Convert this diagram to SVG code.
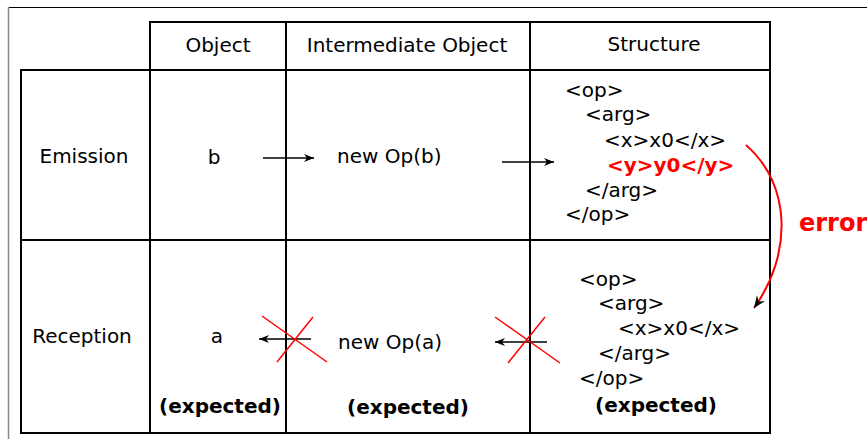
<svg xmlns="http://www.w3.org/2000/svg" width="867" height="439" viewBox="0 0 867 439">
<style>
.t{font-family:"DejaVu Sans",sans-serif;font-size:20px;fill:#000}
.c{text-anchor:middle}
.b{font-weight:bold}
.red{fill:#ff0000}
.grid{stroke:#000;stroke-width:2;fill:none}
.arr{stroke:#000;stroke-width:1.5;fill:none;marker-end:url(#ah)}
.x{stroke:#ff0000;stroke-width:1.5}
</style>
<defs>
<marker id="ah" markerWidth="12" markerHeight="10" refX="10" refY="5" orient="auto" markerUnits="userSpaceOnUse">
<path d="M10,5 L0,1 L3,5 L0,9 z" fill="#000"/>
</marker>
<marker id="ah2" markerWidth="14" markerHeight="12" refX="12" refY="6" orient="auto" markerUnits="userSpaceOnUse">
<path d="M12,6 L0,1 L4,6 L0,11 z" fill="#000"/>
</marker>
</defs>
<rect width="867" height="439" fill="#fff"/>
<g id="frame">
<line x1="8" y1="7.5" x2="867" y2="7.5" stroke="#000" stroke-width="1"/>
<line x1="8.5" y1="7" x2="8.5" y2="439" stroke="#888" stroke-width="1.5"/>
</g>
<g id="table">
<rect class="grid" x="150" y="22" width="620" height="48"/>
<rect class="grid" x="21" y="70" width="749" height="363"/>
<line class="grid" x1="21" y1="240" x2="770" y2="240"/>
<line class="grid" x1="150" y1="70" x2="150" y2="433"/>
<line class="grid" x1="286" y1="22" x2="286" y2="433"/>
<line class="grid" x1="530" y1="22" x2="530" y2="433"/>
</g>
<g id="headers">
<text class="t c" x="218" y="52">Object</text>
<text class="t c" x="407" y="52">Intermediate Object</text>
<text class="t c" x="654" y="51">Structure</text>
<text class="t c" x="84" y="163">Emission</text>
<text class="t c" x="82" y="343">Reception</text>
</g>
<g id="emission">
<text class="t c" x="214" y="164">b</text>
<text class="t" x="337" y="163">new Op(b)</text>
<text class="t" x="565" y="97">&lt;op&gt;</text>
<text class="t" x="585" y="121">&lt;arg&gt;</text>
<text class="t" x="604" y="147">&lt;x&gt;x0&lt;/x&gt;</text>
<text class="t b red" x="607" y="172">&lt;y&gt;y0&lt;/y&gt;</text>
<text class="t" x="585" y="197">&lt;/arg&gt;</text>
<text class="t" x="565" y="221">&lt;/op&gt;</text>
</g>
<g id="reception">
<text class="t c" x="217" y="343">a</text>
<text class="t" x="338" y="349">new Op(a)</text>
<text class="t" x="579" y="286">&lt;op&gt;</text>
<text class="t" x="598" y="310">&lt;arg&gt;</text>
<text class="t" x="618" y="335">&lt;x&gt;x0&lt;/x&gt;</text>
<text class="t" x="598" y="360">&lt;/arg&gt;</text>
<text class="t" x="579" y="385">&lt;/op&gt;</text>
</g>
<g id="expected">
<text class="t c b" x="220" y="413">(expected)</text>
<text class="t c b" x="408" y="414">(expected)</text>
<text class="t c b" x="656" y="412">(expected)</text>
</g>
<g id="connectors">
<line class="arr" x1="263" y1="158" x2="314" y2="158"/>
<line class="arr" x1="502" y1="162" x2="554" y2="162"/>
<line class="arr" x1="311" y1="339" x2="259" y2="339"/>
<line class="arr" x1="547" y1="342" x2="495" y2="342"/>
<line class="x" x1="262" y1="316" x2="327" y2="362"/>
<line class="x" x1="277" y1="362" x2="313" y2="317"/>
<line class="x" x1="495" y1="317" x2="560" y2="363"/>
<line class="x" x1="508" y1="363" x2="545" y2="317"/>
<path d="M746,145 C792,185 792,255 754,308" stroke="#ff0000" stroke-width="2" fill="none" marker-end="url(#ah2)"/>
<text class="t b red" x="799" y="231" style="font-size:24px">error</text>
</g>
</svg>
